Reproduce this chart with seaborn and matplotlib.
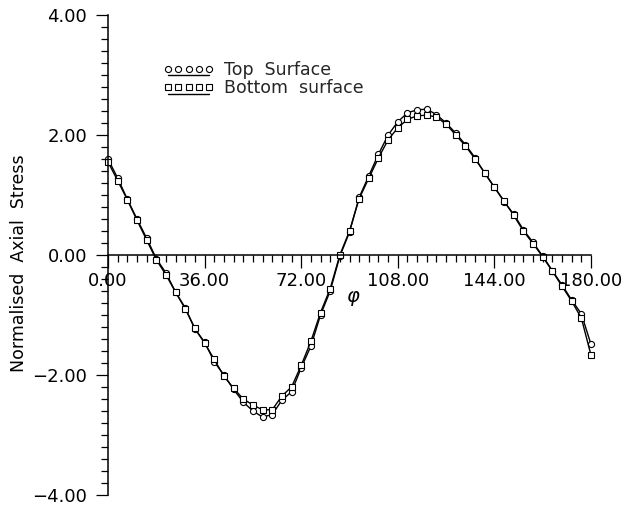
import numpy as np
import pandas as pd
import matplotlib
matplotlib.use("Agg")
import matplotlib.pyplot as plt
from matplotlib.ticker import MultipleLocator, FixedLocator, FixedFormatter
from matplotlib.legend_handler import HandlerLine2DCompound
import seaborn as sns

# Angle around the section (degrees)
phi = [0.0, 3.6, 7.2, 10.8, 14.4, 18.0, 21.6, 25.2, 28.8, 32.4,
       36.0, 39.6, 43.2, 46.8, 50.4, 54.0, 57.6, 61.2, 64.8, 68.4,
       72.0, 75.6, 79.2, 82.8, 86.4, 90.0, 93.6, 97.2, 100.8, 104.4,
       108.0, 111.6, 115.2, 118.8, 122.4, 126.0, 129.6, 133.2, 136.8, 140.4,
       144.0, 147.6, 151.2, 154.8, 158.4, 162.0, 165.6, 169.2, 172.8, 176.4,
       180.0]

# Normalised axial stress on the top surface
top_surface = [1.60, 1.28, 0.93, 0.60, 0.28, -0.06, -0.30, -0.62, -0.88, -1.24,
               -1.45, -1.78, -2.00, -2.24, -2.45, -2.60, -2.70, -2.66, -2.42, -2.28,
               -1.88, -1.52, -1.00, -0.60, -0.02, 0.38, 0.96, 1.32, 1.68, 2.00,
               2.22, 2.37, 2.42, 2.43, 2.34, 2.20, 2.03, 1.84, 1.62, 1.36,
               1.13, 0.89, 0.68, 0.42, 0.21, -0.02, -0.26, -0.50, -0.75, -0.98,
               -1.49]

# Normalised axial stress on the bottom surface
bottom_surface = [1.55, 1.24, 0.92, 0.58, 0.25, -0.08, -0.33, -0.62, -0.90, -1.22,
                  -1.47, -1.74, -2.02, -2.22, -2.40, -2.50, -2.58, -2.58, -2.35, -2.20,
                  -1.84, -1.44, -0.96, -0.56, 0.00, 0.40, 0.94, 1.28, 1.62, 1.92,
                  2.12, 2.26, 2.32, 2.33, 2.30, 2.18, 2.00, 1.82, 1.60, 1.37,
                  1.13, 0.90, 0.66, 0.40, 0.19, -0.03, -0.27, -0.52, -0.77, -1.05,
                  -1.67]

x_ticks = [0, 36, 72, 108, 144, 180]
x_tick_labels = ["0.00", "36.00", "72.00", "108.00", "144.00", "180.00"]
y_ticks = [-4, -2, 0, 2, 4]
y_tick_labels = ["\u22124.00", "\u22122.00", "0.00", "2.00", "4.00"]

sns.set_theme(style="white")
plt.rcParams["font.family"] = ["DejaVu Sans"]
plt.rcParams["axes.unicode_minus"] = True

df = pd.concat([
    pd.DataFrame({"phi": phi, "stress": top_surface, "surface": "Top Surface"}),
    pd.DataFrame({"phi": phi, "stress": bottom_surface, "surface": "Bottom surface"}),
])

fig = plt.figure(figsize=(6.37, 5.07), dpi=100)
ax = fig.add_axes([108 / 637, 1 - 495 / 507, 483 / 637, 480 / 507])

line_style = dict(color="black", linewidth=1.0, markersize=4.4,
                  markerfacecolor="white", markeredgecolor="black",
                  markeredgewidth=0.8)

sns.lineplot(data=df[df["surface"] == "Top Surface"], x="phi", y="stress",
             marker="o", sort=False, legend=False, ax=ax, clip_on=False,
             **line_style)
sns.lineplot(data=df[df["surface"] == "Bottom surface"], x="phi", y="stress",
             marker="s", sort=False, legend=False, ax=ax, clip_on=False,
             **line_style)

ax.set_xlim(0, 180)
ax.set_ylim(-4, 4)

# Axis lines: vertical at phi = 0, horizontal through zero stress
for side in ("top", "right"):
    ax.spines[side].set_visible(False)
ax.spines["bottom"].set_position(("data", 0))
for side in ("left", "bottom"):
    ax.spines[side].set_color("black")
    ax.spines[side].set_linewidth(1.1)
ax.set_facecolor("white")

ax.xaxis.set_major_locator(FixedLocator(x_ticks))
ax.xaxis.set_major_formatter(FixedFormatter(x_tick_labels))
ax.xaxis.set_minor_locator(MultipleLocator(3.6))
ax.yaxis.set_major_locator(FixedLocator(y_ticks))
ax.yaxis.set_major_formatter(FixedFormatter(y_tick_labels))
ax.yaxis.set_minor_locator(MultipleLocator(0.2))

ax.tick_params(which="both", direction="out", color="black", width=0.9,
               bottom=True, left=True, labelsize=13, labelcolor="black")
ax.tick_params(which="major", length=9, pad=3)
ax.tick_params(which="minor", length=5)
ax.tick_params(axis="y", which="major", pad=6)

ax.set_xlabel("")
ax.set_ylabel("Normalised  Axial  Stress", fontsize=12.5, color="black")
ax.yaxis.set_label_coords(-0.165, 0.482)

ax.text(91, -0.70, "\u03c6", fontsize=14, style="italic", ha="center",
        va="center", color="black")

# Legend: markers above, a plain rule beneath them
top_handle = plt.Line2D([], [], marker="o", **line_style)
bottom_handle = plt.Line2D([], [], marker="s", **line_style)


class RuleBelowHandler(HandlerLine2DCompound):
    def create_artists(self, legend, orig_handle, xdescent, ydescent,
                       width, height, fontsize, trans):
        artists = super().create_artists(legend, orig_handle, xdescent, ydescent,
                                         width, height, fontsize, trans)
        rule = artists[0]
        rule.set_ydata(np.asarray(rule.get_ydata()) - 0.52 * height)
        return artists


leg = ax.legend([top_handle, bottom_handle], ["Top  Surface", "Bottom  surface"],
                handler_map={plt.Line2D: RuleBelowHandler(numpoints=5)},
                loc="upper left", bbox_to_anchor=(0.113, 0.905),
                frameon=False, fontsize=12.5, handlelength=3.0,
                handletextpad=0.55, labelspacing=0.05, borderpad=0,
                borderaxespad=0)

fig.savefig("out.png", dpi=100, facecolor="white")
